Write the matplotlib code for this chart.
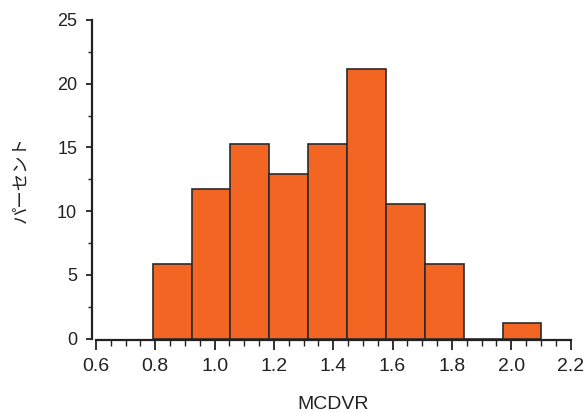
import matplotlib
matplotlib.use("Agg")
import matplotlib.pyplot as plt
from matplotlib.ticker import MultipleLocator, FormatStrFormatter

# data
bin_left = 0.791
bin_width = 0.1311
percent = [5.88, 11.76, 15.29, 12.94, 15.29, 21.18, 10.59, 5.88, 0.0, 1.18]
x_ticks = [0.6, 0.8, 1.0, 1.2, 1.4, 1.6, 1.8, 2.0, 2.2]
y_ticks = [0, 5, 10, 15, 20, 25]

lefts = [bin_left + i * bin_width for i in range(len(percent))]

plt.rcParams['font.family'] = ['Liberation Sans', 'Noto Sans CJK JP', 'DejaVu Sans']

fig = plt.figure(figsize=(5.85, 4.12), dpi=100)
ax = fig.add_axes([96/585, 73.5/412, 474.5/585, 318.5/412])

ax.bar(lefts, percent, width=bin_width, align='edge', color='#F26522',
       edgecolor='#2b2b2b', linewidth=1.2, zorder=3)

ax.set_xlim(0.6, 2.2)
ax.set_ylim(0, 25)
ax.set_xticks(x_ticks)
ax.set_yticks(y_ticks)
ax.xaxis.set_major_formatter(FormatStrFormatter('%.1f'))
ax.xaxis.set_minor_locator(MultipleLocator(0.05))
ax.yaxis.set_minor_locator(MultipleLocator(2.5))

for s in ['top', 'right']:
    ax.spines[s].set_visible(False)
ax.spines['left'].set_position(('outward', 3))
ax.spines['bottom'].set_position(('outward', 1))
for s in ['left', 'bottom']:
    ax.spines[s].set_linewidth(1.6)
    ax.spines[s].set_color('#222222')

ax.tick_params(axis='x', which='major', length=7, width=1.3, direction='out',
               labelsize=14, pad=6, colors='#222222')
ax.tick_params(axis='x', which='minor', length=4, width=1.0, direction='out', colors='#222222')
ax.tick_params(axis='y', which='major', length=4.5, width=1.3, direction='out',
               labelsize=13, pad=6, colors='#222222')
ax.tick_params(axis='y', which='minor', length=3, width=1.0, direction='out', colors='#222222')

ax.set_xlabel('MCDVR', fontsize=14, color='#222222', labelpad=15)
ax.set_ylabel('パーセント', fontsize=12.5, color='#222222', labelpad=20,
              family=['Noto Sans CJK JP', 'DejaVu Sans'])

fig.savefig('out.png', dpi=100)
